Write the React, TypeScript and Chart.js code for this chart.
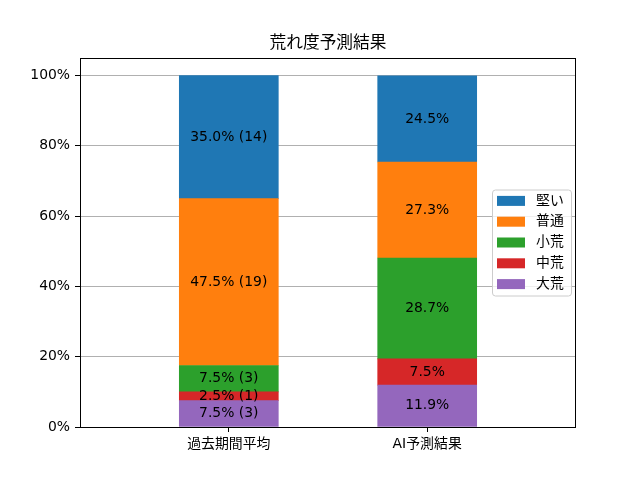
import React, { useEffect, useRef } from 'react'
import { Chart, registerables } from 'chart.js'

Chart.register(...registerables)

const categories = ['過去期間平均', 'AI予測結果']
const seriesNames = ['大荒', '中荒', '小荒', '普通', '堅い']
const seriesColors = ['#9467bd', '#d62728', '#2ca02c', '#ff7f0e', '#1f77b4']
const pastValues = [7.5, 2.5, 7.5, 47.5, 35.0]
const pastCounts = [3, 1, 3, 19, 14]
const aiValues = [11.9, 7.5, 28.7, 27.3, 24.5]
const yTicks = [0, 20, 40, 60, 80, 100]
const title = '荒れ度予測結果'

const FONT = '"DejaVu Sans", "Noto Sans CJK JP", sans-serif'

const decorPlugin = {
  id: 'decor',
  afterDatasetsDraw(chart: any) {
    const ctx = chart.ctx
    const area = chart.chartArea
    ctx.save()

    // bar labels
    ctx.fillStyle = '#000'
    ctx.font = `13.9px ${FONT}`
    ctx.textAlign = 'center'
    ctx.textBaseline = 'middle'
    chart.data.datasets.forEach((ds: any, i: number) => {
      const meta = chart.getDatasetMeta(i)
      meta.data.forEach((el: any, j: number) => {
        const v = ds.data[j].y
        const p = el.getCenterPoint()
        const txt = v.toFixed(1) + '%' + (j === 0 ? ` (${pastCounts[i]})` : '')
        ctx.fillText(txt, p.x, p.y)
      })
    })

    // frame
    ctx.strokeStyle = '#000'
    ctx.lineWidth = 1
    ctx.strokeRect(Math.round(area.left) + 0.5, Math.round(area.top) + 0.5,
      Math.round(area.right - area.left) - 1, Math.round(area.bottom - area.top))

    // title
    ctx.font = `16.7px ${FONT}`
    ctx.textBaseline = 'middle'
    ctx.fillText(title, (area.left + area.right) / 2, area.top - 14)

    // legend
    const boxW = 79
    const boxH = 106
    const bx = area.right - 5 - boxW
    const cy = (area.top + area.bottom) / 2
    const by = cy - boxH / 2
    ctx.beginPath()
    ctx.roundRect(bx + 0.5, by + 0.5, boxW, boxH, 3)
    ctx.fillStyle = 'rgba(255,255,255,0.8)'
    ctx.fill()
    ctx.strokeStyle = '#cccccc'
    ctx.stroke()
    ctx.font = `13.9px ${FONT}`
    ctx.textAlign = 'left'
    for (let k = 0; k < seriesNames.length; k++) {
      const idx = seriesNames.length - 1 - k
      const ry = cy + (k - 2) * 20.8
      ctx.fillStyle = seriesColors[idx]
      ctx.fillRect(bx + 5, ry - 5, 28, 10)
      ctx.fillStyle = '#000'
      ctx.fillText(seriesNames[idx], bx + 44, ry)
    }
    ctx.restore()
  }
}

const App: React.FC = () => {
  const chartRef = useRef<HTMLCanvasElement | null>(null)

  useEffect(() => {
    document.body.style.margin = '0'
    if (!chartRef.current) return
    const chart = new Chart(chartRef.current, {
      type: 'bar',
      data: {
        datasets: seriesNames.map((name, i) => ({
          label: name,
          data: [
            { x: 0, y: pastValues[i] },
            { x: 1, y: aiValues[i] }
          ],
          backgroundColor: seriesColors[i],
          borderWidth: 0,
          barThickness: 99
        }))
      },
      options: {
        responsive: true,
        maintainAspectRatio: false,
        animation: false,
        layout: { padding: { top: 58, right: 64, left: 0, bottom: 0 } },
        plugins: {
          legend: { display: false },
          title: { display: false },
          tooltip: { enabled: false }
        },
        scales: {
          x: {
            type: 'linear',
            stacked: true,
            min: -0.75,
            max: 1.75,
            offset: false,
            border: { display: false },
            grid: {
              offset: false,
              drawOnChartArea: false,
              color: '#000',
              tickColor: '#000',
              tickLength: 5
            },
            ticks: {
              color: '#000',
              padding: 4,
              font: { family: FONT, size: 13.9 },
              callback: (v: any) => categories[v] ?? ''
            },
            afterBuildTicks: (axis: any) => {
              axis.ticks = categories.map((_, i) => ({ value: i }))
            },
            afterFit: (axis: any) => {
              axis.height = 53
            }
          },
          y: {
            stacked: true,
            min: 0,
            max: 105,
            border: { display: false },
            grid: {
              color: '#b0b0b0',
              tickColor: '#000',
              tickLength: 5
            },
            ticks: {
              color: '#000',
              padding: 5,
              font: { family: FONT, size: 13.9 },
              callback: (v: any) => v + '%'
            },
            afterBuildTicks: (axis: any) => {
              axis.ticks = yTicks.map((v) => ({ value: v }))
            },
            afterFit: (axis: any) => {
              axis.width = 80
            }
          }
        }
      },
      plugins: [decorPlugin]
    })
    return () => {
      chart.destroy()
    }
  }, [])

  return (
    <div style={{ width: 640, height: 480 }}>
      <canvas ref={chartRef} />
    </div>
  )
}

export default App
